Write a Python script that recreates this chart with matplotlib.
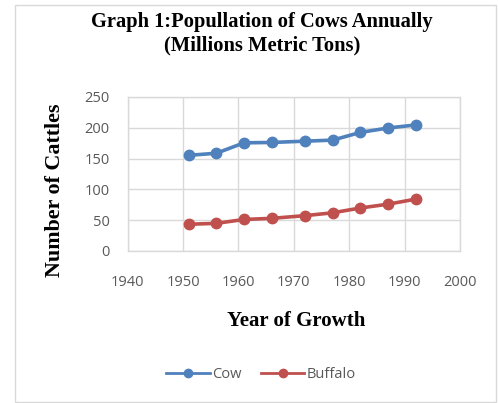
import matplotlib
matplotlib.use("Agg")
import matplotlib.pyplot as plt
from matplotlib.patches import Rectangle

years = [1951, 1956, 1961, 1966, 1972, 1977, 1982, 1987, 1992]
cow = [155.3, 158.7, 175.6, 176.2, 178.3, 180.0, 192.5, 199.7, 204.6]
buffalo = [43.4, 44.9, 51.2, 53.0, 57.4, 62.0, 69.8, 76.0, 84.2]
xticks = [1940, 1950, 1960, 1970, 1980, 1990, 2000]
yticks = [0, 50, 100, 150, 200, 250]

W, H = 498, 403
fig = plt.figure(figsize=(W/100, H/100), dpi=100)
fig.patch.set_facecolor("white")

# outer chart frame
fig.add_artist(Rectangle((15/W, 1/H), (496-15)/W, (398-1)/H, transform=fig.transFigure,
                         fill=False, edgecolor="#d9d9d9", linewidth=1.0))

ax = fig.add_axes([127.7/W, 1-251/H, (460-127.7)/W, (251-97)/H])
tick_font = "Open Sans"
ax.plot(years, cow, color="#4F81BD", linewidth=2.6, marker="o", markersize=7.5, label="Cow")
ax.plot(years, buffalo, color="#C0504D", linewidth=2.6, marker="o", markersize=7.5, label="Buffalo")

ax.set_xlim(1940, 2000)
ax.set_ylim(0, 250)
ax.set_xticks(xticks)
ax.set_yticks(yticks)
ax.grid(True, color="#d9d9d9", linewidth=1.0)
ax.set_axisbelow(True)
for s in ax.spines.values():
    s.set_color("#d9d9d9")
    s.set_linewidth(1.0)
ax.tick_params(length=0, colors="#595959", labelsize=10.5)
ax.tick_params(axis="x", pad=17)
ax.tick_params(axis="y", pad=13)
for lab in ax.get_xticklabels() + ax.get_yticklabels():
    lab.set_fontfamily(tick_font)

fig.text(262/W, 1-22/H, "Graph 1:Popullation of Cows Annually", ha="center", va="center",
         family="Liberation Serif", fontweight="bold", fontsize=14.8)
fig.text(262/W, 1-45/H, "(Millions Metric Tons)", ha="center", va="center",
         family="Liberation Serif", fontweight="bold", fontsize=14.8)
fig.text(296/W, 1-321/H, "Year of Growth", ha="center", va="center",
         family="Liberation Serif", fontweight="bold", fontsize=15)
fig.text(55/W, 1-190/H, "Number of Cattles", ha="center", va="center", rotation=90,
         family="Liberation Serif", fontweight="bold", fontsize=15.8)

leg = fig.legend(loc="center", bbox_to_anchor=(261/W, 1-375/H), ncol=2, frameon=False,
                 prop={"family": tick_font, "size": 10.5}, handlelength=3.0,
                 columnspacing=1.3, handletextpad=0.15, markerscale=0.8)
for t in leg.get_texts():
    t.set_color("#595959")
for h in leg.legend_handles:
    h.set_linewidth(2.0)

fig.savefig("out.png", dpi=100)
